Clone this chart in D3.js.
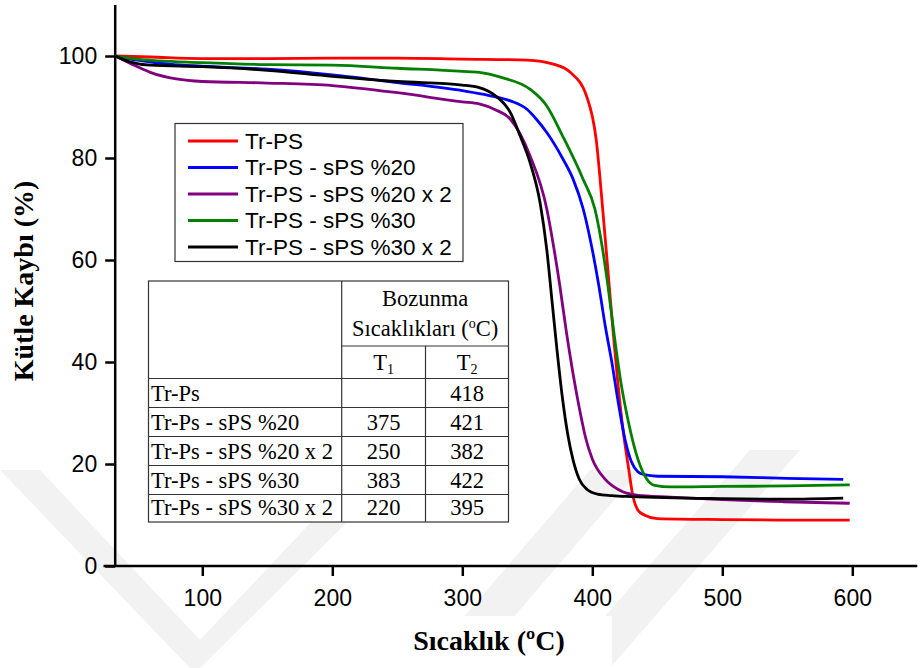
<!DOCTYPE html>
<html>
<head>
<meta charset="utf-8">
<script src="https://cdn.jsdelivr.net/npm/d3@7"></script>
<style>
  body { margin: 0; background: #fff; }
  svg { display: block; }
</style>
</head>
<body>
<svg id="chart" width="920" height="668"></svg>
<script>
// series: [temperature °C, mass %]
const trPS = [[33,100],[60,99.8],[100,99.5],[150,99.5],[200,99.6],[250,99.6],[300,99.4],[350,99.2],[370,98.4],[383,96.8],[395.5,92.2],[403,83.6],[408,70],[412,58],[416,46],[420,35],[424,26],[428,19],[431,14],[435,11],[440,10],[450,9.3],[500,9.1],[550,9.0],[598,9.0]];
const sps20 = [[33,100],[50,99.2],[75,98.4],[100,98.0],[150,97.4],[200,96.3],[250,94.8],[300,93.2],[320,92.3],[337,91.2],[350,89.5],[357,87.6],[365,85],[377,80],[385,76],[393,70],[400,62],[405,55],[410,47],[415,40],[420,32],[425,25],[430,20.5],[435,18.5],[440,17.9],[450,17.6],[500,17.5],[550,17.2],[593,17.0]];
const sps20x2 = [[33,100],[45,98.5],[60,96.8],[80,95.5],[100,95.0],[150,94.7],[200,94.2],[250,92.8],[300,91.0],[313,90.6],[325,89.5],[337,87.6],[352,80.5],[365,70],[370,63],[375,55],[380,46],[385,38],[390,31],[395,25],[400,21],[410,17],[420,15],[434,13.9],[460,13.5],[500,13.0],[547,12.6],[598,12.3]];
const sps30 = [[33,100],[50,99.4],[100,98.7],[150,98.3],[200,98.2],[250,97.6],[300,97.0],[313,96.8],[330,95.8],[352,93.5],[365,90.2],[377,84.4],[393,75.8],[402,70],[408,62],[412,55],[417,45],[422,36],[428,28],[435,21],[442,17],[448,15.8],[460,15.5],[500,15.6],[550,15.7],[598,15.9]];
const sps30x2 = [[33,100],[45,98.8],[60,98.2],[100,97.9],[150,97.2],[200,96.0],[250,95.0],[300,94.3],[313,93.8],[325,92.3],[337,88.9],[345,84],[352,79.2],[360,71],[365,62],[369,52],[373,42],[377,33],[381,26],[385,21],[390,17],[396,15],[404,14.1],[415,13.8],[430,13.6],[500,13.2],[550,13.1],[593,13.3]];

const seriesNames = ["Tr-PS", "Tr-PS - sPS %20", "Tr-PS - sPS %20 x 2", "Tr-PS - sPS %30", "Tr-PS - sPS %30 x 2"];
const seriesData = [trPS, sps20, sps20x2, sps30, sps30x2];
const seriesColors = ["#ff0000", "#0000ff", "#800080", "#008000", "#000000"];

const xMajor = [100, 200, 300, 400, 500, 600];
const xMinor = [50, 150, 250, 350, 450, 550, 650];
const yMajor = [0, 20, 40, 60, 80, 100];
const yMinor = [10, 30, 50, 70, 90, 110];

// inset table
const tableRows = ["Tr-Ps", "Tr-Ps - sPS %20", "Tr-Ps - sPS %20 x 2", "Tr-Ps - sPS %30", "Tr-Ps - sPS %30 x 2"];
const tableT1 = ["", "375", "250", "383", "220"];
const tableT2 = ["418", "421", "382", "422", "395"];

const svg = d3.select("#chart");
const x = d3.scaleLinear().domain([24, 650]).range([103.5, 917.3]);
const y = d3.scaleLinear().domain([0, 110]).range([566, 5]);
const yAxisAt = 33;

const sans = "'Liberation Sans', Arial, sans-serif";
const serif = "'Liberation Serif', 'Times New Roman', serif";

// faint watermark
const wm = svg.append("g").attr("fill", "#f2f2f2");
[
  [[0,470],[40,470],[200,640],[360,470],[400,470],[200,668],[190,668]],
  [[420,668],[470,668],[640,470],[590,470]],
  [[560,668],[610,668],[800,450],[750,450]],
].forEach(p => wm.append("polygon").attr("points", p.map(d => d.join(",")).join(" ")));

// x axis
const gx = svg.append("g").attr("transform", `translate(0,${y(0)})`);
gx.call(d3.axisBottom(x).tickValues(xMinor).tickSize(5).tickFormat(""));
gx.call(d3.axisBottom(x).tickValues(xMajor).tickSize(10).tickPadding(14).tickSizeOuter(0));
gx.selectAll("path.domain").attr("d", `M${x(24)},0H${x(650)}`);

// y axis
const gy = svg.append("g").attr("transform", `translate(${x(yAxisAt)},0)`);
gy.call(d3.axisLeft(y).tickValues(yMinor).tickSize(5).tickFormat(""));
gy.call(d3.axisLeft(y).tickValues(yMajor).tickSize(10).tickPadding(8).tickSizeOuter(0));
gy.selectAll("path.domain").attr("d", `M0,${y(0)}V${y(110)}`);

svg.selectAll(".domain, .tick line").attr("stroke", "#000").attr("stroke-width", 2.5);
svg.selectAll(".tick text").attr("font-family", sans).attr("font-size", 23).attr("fill", "#000");

// axis titles
svg.append("rect").attr("x", 388).attr("y", 616).attr("width", 224).attr("height", 52).attr("fill", "#fff");
svg.append("text").attr("x", 489).attr("y", 650).attr("text-anchor", "middle")
  .attr("font-family", serif).attr("font-weight", "bold").attr("font-size", 28)
  .text("Sıcaklık (ºC)");
svg.append("text").attr("transform", "translate(33,281) rotate(-90)").attr("text-anchor", "middle")
  .attr("font-family", serif).attr("font-weight", "bold").attr("font-size", 28)
  .text("Kütle Kaybı (%)");

// curves
const line = d3.line().x(d => x(d[0])).y(d => y(d[1])).curve(d3.curveMonotoneX);
svg.append("g").selectAll("path").data(seriesData).join("path")
  .attr("d", line).attr("fill", "none")
  .attr("stroke", (d, i) => seriesColors[i]).attr("stroke-width", 2.8);

// legend
const lg = svg.append("g");
lg.append("rect").attr("x", 175).attr("y", 123.5).attr("width", 288).attr("height", 138)
  .attr("fill", "#fff").attr("stroke", "#333").attr("stroke-width", 1.2);
seriesNames.forEach((name, i) => {
  const cy = 141 + i * 26.5;
  lg.append("line").attr("x1", 188).attr("x2", 238).attr("y1", cy).attr("y2", cy)
    .attr("stroke", seriesColors[i]).attr("stroke-width", 3);
  lg.append("text").attr("x", 245).attr("y", cy).attr("dy", "0.35em")
    .attr("font-family", sans).attr("font-size", 22.5).text(name);
});

// table
const tb = svg.append("g").attr("font-family", serif).attr("font-size", 22.5).attr("fill", "#000");
const tx = [148.5, 341.7, 425.5, 508.5];
const ty = [281, 346, 378.5, 407.5, 436.5, 465.5, 494.5, 522];
tb.append("rect").attr("x", tx[0]).attr("y", ty[0]).attr("width", tx[3] - tx[0]).attr("height", ty[7] - ty[0])
  .attr("fill", "#fff").attr("stroke", "#333").attr("stroke-width", 1.2);
const tl = (x1, y1, x2, y2) => tb.append("line").attr("x1", x1).attr("y1", y1).attr("x2", x2).attr("y2", y2)
  .attr("stroke", "#333").attr("stroke-width", 1.2);
tl(tx[1], ty[0], tx[1], ty[7]);
tl(tx[2], ty[1], tx[2], ty[7]);
tl(tx[1], ty[1], tx[3], ty[1]);
for (let r = 2; r < 7; r++) tl(tx[0], ty[r], tx[3], ty[r]);
const mid = (a, b) => (a + b) / 2;
tb.append("text").attr("x", mid(tx[1], tx[3])).attr("y", 306).attr("text-anchor", "middle").text("Bozunma");
const hd = tb.append("text").attr("x", mid(tx[1], tx[3])).attr("y", 336).attr("text-anchor", "middle");
hd.append("tspan").text("Sıcaklıkları (");
hd.append("tspan").attr("font-size", 14).attr("dy", -8).text("o");
hd.append("tspan").attr("dy", 8).text("C)");
[["T", "1", 1], ["T", "2", 2]].forEach(([a, b, c]) => {
  const t = tb.append("text").attr("x", mid(tx[c], tx[c + 1])).attr("y", 370).attr("text-anchor", "middle");
  t.append("tspan").text(a);
  t.append("tspan").attr("font-size", 14).attr("dy", 4).text(b);
});
tableRows.forEach((name, i) => {
  const base = ty[i + 3] - 7;
  tb.append("text").attr("x", 151).attr("y", base).text(name);
  tb.append("text").attr("x", mid(tx[1], tx[2])).attr("y", base).attr("text-anchor", "middle").text(tableT1[i]);
  tb.append("text").attr("x", mid(tx[2], tx[3])).attr("y", base).attr("text-anchor", "middle").text(tableT2[i]);
});
</script>
</body>
</html>
